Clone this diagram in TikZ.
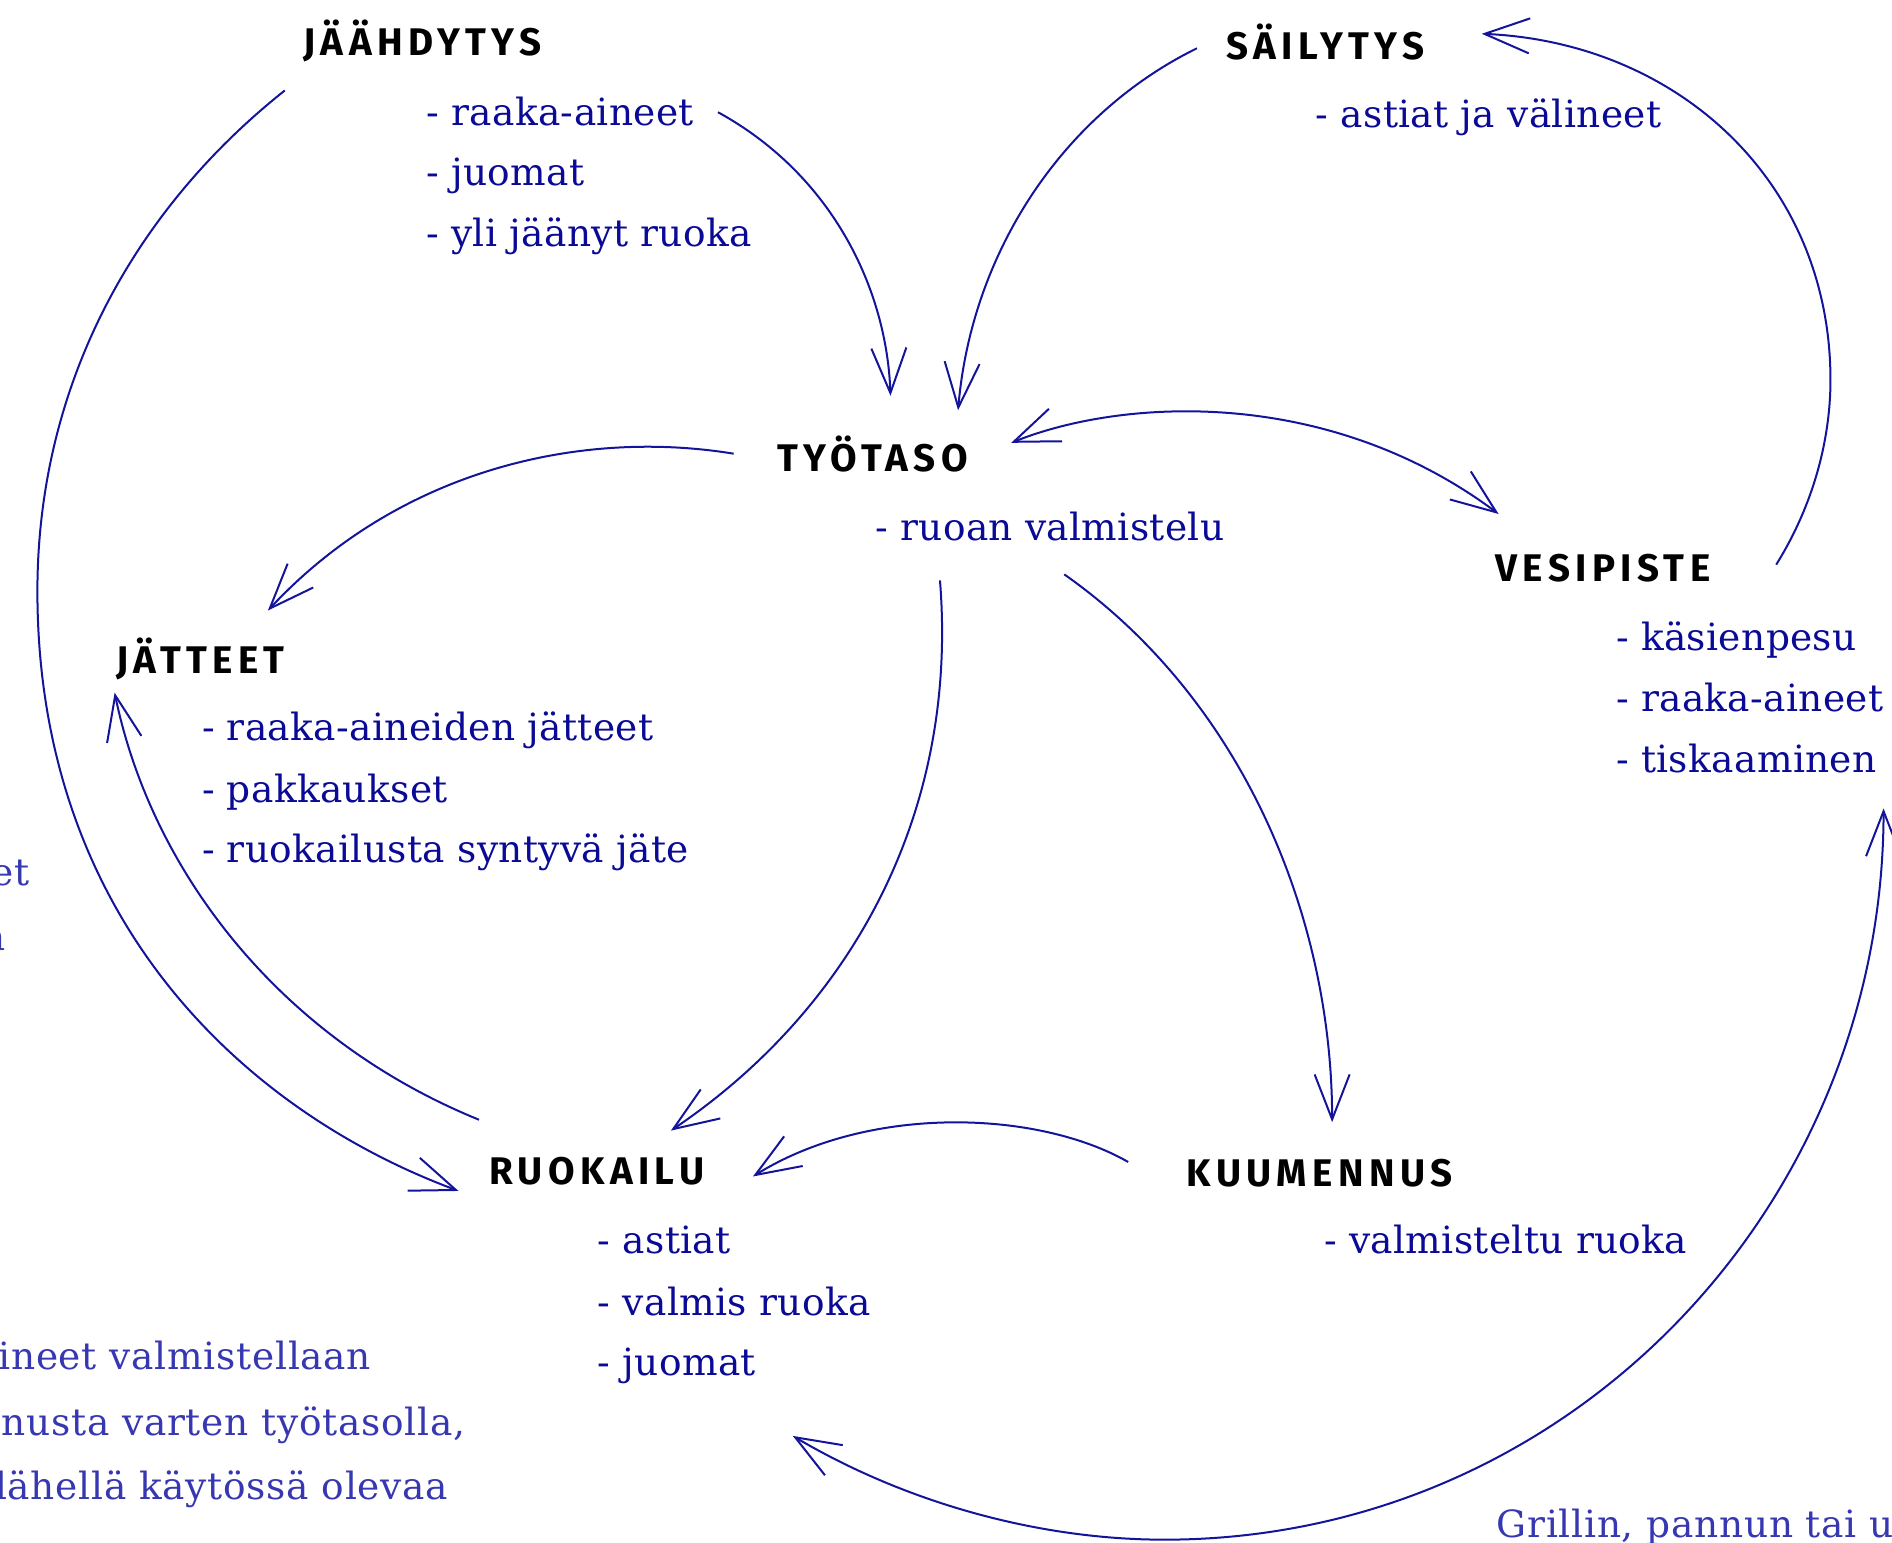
\documentclass[tikz,border=0pt]{standalone}
\usepackage{fontspec}
\setmainfont{DejaVu Serif}[LetterSpace=1]
\newfontfamily\headfont{Fira Sans}[LetterSpace=14]
\newfontfamily\sidefont{DejaVu Serif}[LetterSpace=2]
\usepackage{tikz}
\usetikzlibrary{arrows.meta}

\definecolor{listblue}{RGB}{10,10,150}
\definecolor{lineblue}{RGB}{20,20,155}
\definecolor{sideblue}{RGB}{55,55,178}

\tikzset{
  head/.style={anchor=base west, inner sep=0pt, text=black,
    font=\headfont\bfseries\fontsize{15.4}{18}\selectfont},
  item/.style={anchor=base west, inner sep=0pt, text=listblue,
    font=\fontsize{15}{18}\selectfont},
  side/.style={anchor=base east, inner sep=0pt, text=sideblue,
    font=\sidefont\fontsize{15}{18}\selectfont},
  barb/.tip={Straight Barb[length=18pt,width=14pt]},
  flow/.style={draw=lineblue, line width=0.8pt, -barb},
  twoway/.style={flow, barb-barb}
}

\begin{document}
\begin{tikzpicture}[x=0.48265pt, y=-0.48265pt]
        \useasboundingbox (0,0) rectangle (1568,1278);

        % stations and their lists
        \node[head] (jaahdytys) at (251,46) {JÄÄHDYTYS};
        \node[item] (jaa1) at (353,104) {- raaka-aineet};
        \node[item] (jaa2) at (353,154) {- juomat};
        \node[item] (jaa3) at (353,204) {- yli jäänyt ruoka};

        \node[head] (sailytys) at (1016,49) {SÄILYTYS};
        \node[item] (sai1) at (1090,106) {- astiat ja välineet};

        \node[head] (tyotaso) at (644,391) {TYÖTASO};
        \node[item] (tyo1) at (725,448) {- ruoan valmistelu};

        \node[head] (vesipiste) at (1239,482) {VESIPISTE};
        \node[item] (vesi1) at (1339,539) {- käsienpesu};
        \node[item] (vesi2) at (1339,590) {- raaka-aineet};
        \node[item] (vesi3) at (1339,640) {- tiskaaminen};

        \node[head] (jatteet) at (96,558) {JÄTTEET};
        \node[item] (jat1) at (167,614) {- raaka-aineiden jätteet};
        \node[item] (jat2) at (167,665) {- pakkaukset};
        \node[item] (jat3) at (167,715) {- ruokailusta syntyvä jäte};

        \node[head] (ruokailu) at (405,982) {RUOKAILU};
        \node[item] (ruo1) at (495,1039) {- astiat};
        \node[item] (ruo2) at (495,1090) {- valmis ruoka};
        \node[item] (ruo3) at (495,1140) {- juomat};

        \node[head] (kuumennus) at (983,983) {KUUMENNUS};
        \node[item] (kuu1) at (1097,1039) {- valmisteltu ruoka};

        % text of the page around the picture
        \node[side] (reuna1) at (25,734) {et};
        \node[side] (reuna2) at (5,788) {n};
        \node[side] (teksti1) at (308,1135) {ineet valmistellaan};
        \node[side] (teksti2) at (386,1190) {nusta varten työtasolla,};
        \node[side] (teksti3) at (372,1243) {lähellä käytössä olevaa};
        \node[side, anchor=base west] (teksti4) at (1240,1274) {Grillin, pannun tai u};

        % ends of the arrows
        \coordinate (jaa-a) at (236,75);
        \coordinate (jaa-b) at (595,93);
        \coordinate (sai-a) at (992,40);
        \coordinate (sai-b) at (1228,28);
        \coordinate (tyo-a) at (738,328);
        \coordinate (tyo-b) at (794,340);
        \coordinate (tyo-c) at (838,367);
        \coordinate (tyo-d) at (608,376);
        \coordinate (tyo-e) at (779,481);
        \coordinate (tyo-f) at (882,476);
        \coordinate (vesi-a) at (1242,426);
        \coordinate (vesi-b) at (1472,468);
        \coordinate (vesi-c) at (1561,670);
        \coordinate (jat-a) at (222,506);
        \coordinate (jat-b) at (95,574);
        \coordinate (ruo-a) at (380,987);
        \coordinate (ruo-b) at (397,928);
        \coordinate (ruo-c) at (556,937);
        \coordinate (ruo-d) at (624,975);
        \coordinate (ruo-e) at (657,1190);
        \coordinate (kuu-a) at (1104,930);
        \coordinate (kuu-b) at (935,963);

        \draw[flow] (jaa-a) .. controls (110,175) and (31,320) .. (31,490)
            .. controls (31,760) and (200,920) .. (ruo-a);
        \draw[flow] (jaa-b) .. controls (690,145) and (735,240) .. (tyo-a);
        \draw[flow] (sai-a) .. controls (880,95) and (805,210) .. (tyo-b);
        \draw[flow] (vesi-b) .. controls (1505,415) and (1517,360) .. (1517,315)
            .. controls (1517,150) and (1390,35) .. (sai-b);
        \draw[twoway] (tyo-c) .. controls (930,330) and (1100,320) .. (vesi-a);
        \draw[flow] (tyo-d) .. controls (480,355) and (330,390) .. (jat-a);
        \draw[flow] (tyo-e) .. controls (795,680) and (700,840) .. (ruo-c);
        \draw[flow] (tyo-f) .. controls (1030,580) and (1104,760) .. (kuu-a);
        \draw[flow] (kuu-b) .. controls (860,920) and (720,915) .. (ruo-d);
        \draw[flow] (ruo-b) .. controls (230,860) and (125,720) .. (jat-b);
        \draw[twoway] (ruo-e) .. controls (750,1245) and (860,1276) .. (965,1276)
            .. controls (1300,1276) and (1561,1000) .. (vesi-c);
\end{tikzpicture}
\end{document}
